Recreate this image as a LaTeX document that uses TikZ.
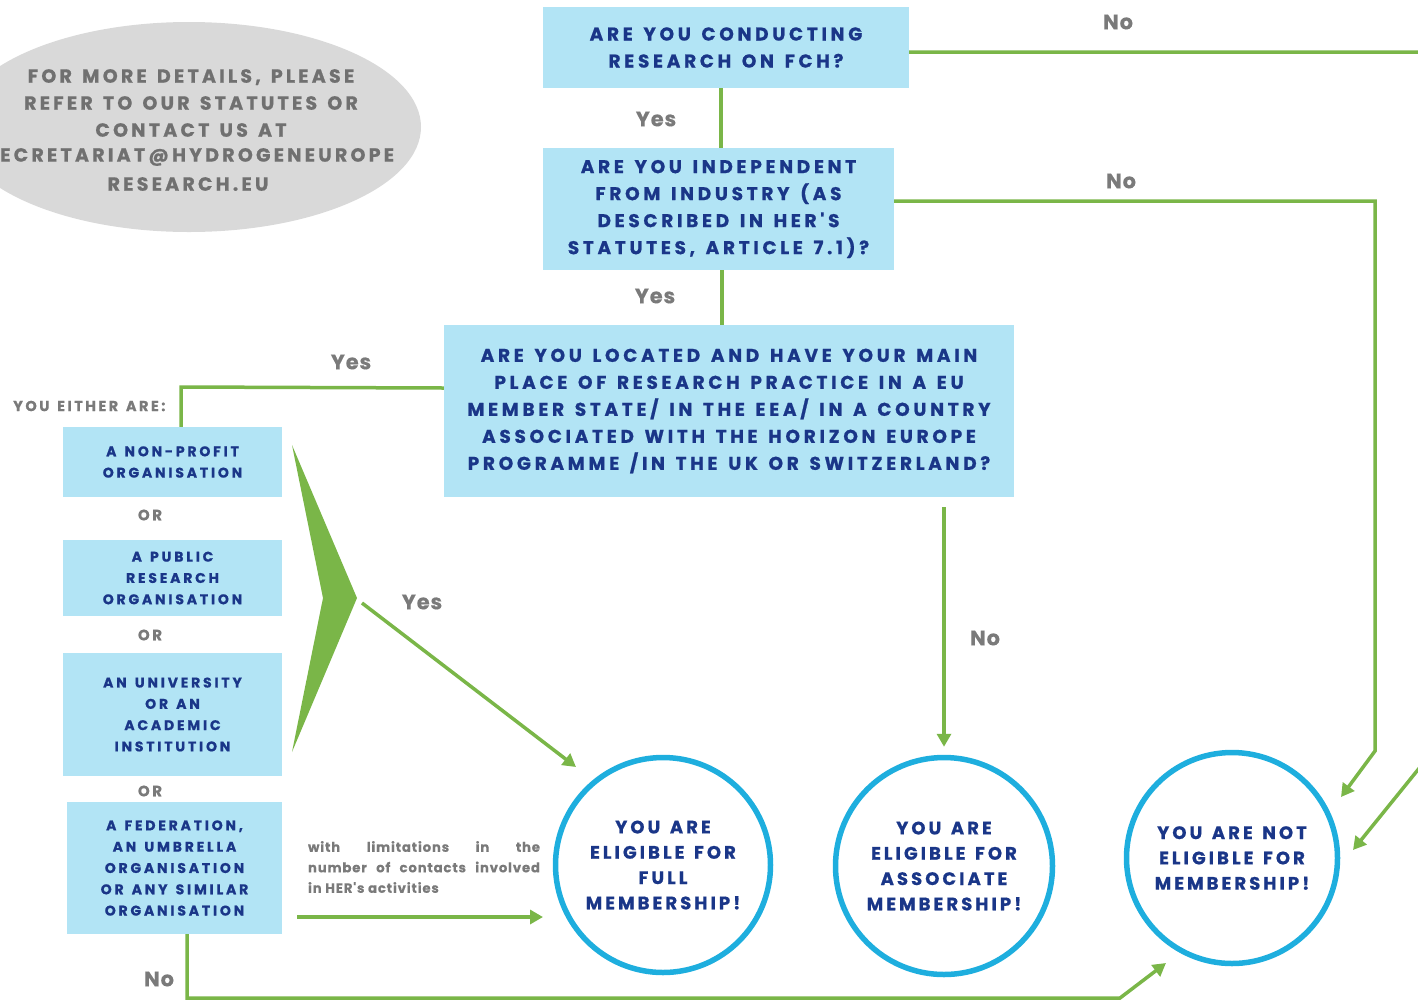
\documentclass[tikz,border=0pt]{standalone}
\usepackage{fontspec}
\setmainfont{Poppins}
\newfontfamily\hfont{Poppins}[LetterSpace=17, WordSpace=1.4, FakeBold=0.8]
\newfontfamily\qfont{Poppins}[LetterSpace=20, WordSpace=1.4, FakeBold=0.8]
\newfontfamily\lfont{Poppins}[LetterSpace=4, FakeBold=0.3]
\newfontfamily\tfont{Poppins}[LetterSpace=6, FakeBold=0.2]
\usetikzlibrary{arrows.meta,calc}
\definecolor{boxblue}{RGB}{178,228,245}
\definecolor{navy}{RGB}{26,54,136}
\definecolor{hgreen}{RGB}{122,182,72}
\definecolor{cblue}{RGB}{30,174,222}
\definecolor{lgray}{RGB}{122,122,122}
\definecolor{egray}{RGB}{217,217,217}
\definecolor{etext}{RGB}{112,112,112}
\tikzset{
  qbox/.style={fill=boxblue, inner sep=0pt, align=center, text=navy,
    font=\qfont\bfseries\fontsize{18.5}{27}\selectfont},
  obox/.style={fill=boxblue, inner sep=0pt, align=center, text=navy,
    font=\qfont\bfseries\fontsize{14}{21.3}\selectfont},
  res/.style={circle, draw=cblue, line width=5.5pt, inner sep=0pt, align=center, text=navy,
    font=\hfont\bfseries\fontsize{18}{25.3}\selectfont},
  lbl/.style={text=lgray, inner sep=0pt, font=\lfont\bfseries\fontsize{21}{22}\selectfont},
  orl/.style={text=lgray, inner sep=0pt, font=\hfont\bfseries\fontsize{15}{15}\selectfont},
  etxt/.style={text=etext, inner sep=0pt, align=center, font=\hfont\bfseries\fontsize{19}{27}\selectfont},
  conn/.style={draw=hgreen, line width=3.5pt},
  arr/.style={conn, -{Triangle[length=13pt,width=14pt]}},
}
\begin{document}
\begin{tikzpicture}[x=1pt,y=-1pt]
\useasboundingbox (0,0) rectangle (1418,1002);
% ellipse note
\fill[egray] (189,127) ellipse [x radius=232pt, y radius=105pt];
\node[etxt] (e1) at (191,103) {FOR MORE DETAILS, PLEASE\\REFER TO OUR STATUTES OR\\CONTACT US AT};
\node[etxt, anchor=west] (e2) at (0,157) {ECRETARIAT@HYDROGENEUROPE};
\node[etxt] (e3) at (188,184) {RESEARCH.EU};
% question boxes
\node[qbox, minimum width=366pt, minimum height=81pt] (q1) at (726,47.5)
  {ARE YOU CONDUCTING\\RESEARCH ON FCH?};
\node[qbox, minimum width=351pt, minimum height=122pt] (q2) at (718.5,209)
  {ARE YOU INDEPENDENT\\FROM INDUSTRY (AS\\DESCRIBED IN HER'S\\STATUTES, ARTICLE 7.1)?};
\node[qbox, minimum width=570pt, minimum height=172pt] (q3) at (729,411)
  {ARE YOU LOCATED AND HAVE YOUR MAIN\\PLACE OF RESEARCH PRACTICE IN A EU\\MEMBER STATE/ IN THE EEA/ IN A COUNTRY\\ASSOCIATED WITH THE HORIZON EUROPE\\PROGRAMME /IN THE UK OR SWITZERLAND?};
% organisation boxes
\node[text=lgray, inner sep=0pt, anchor=west, font=\hfont\bfseries\fontsize{14.5}{14}\selectfont] (either) at (13,406) {YOU EITHER ARE:};
\node[obox, minimum width=219pt, minimum height=70pt] (oA) at (172.5,462)
  {A NON-PROFIT\\ORGANISATION};
\node[orl] (or1) at (150,515) {OR};
\node[obox, minimum width=219pt, minimum height=76pt] (oB) at (172.5,578)
  {A PUBLIC\\RESEARCH\\ORGANISATION};
\node[orl] (or2) at (150,635) {OR};
\node[obox, minimum width=219pt, minimum height=123pt] (oC) at (172.5,714.5)
  {AN UNIVERSITY\\OR AN\\ACADEMIC\\INSTITUTION};
\node[orl] (or3) at (150,791) {OR};
\node[obox, minimum width=215pt, minimum height=132pt] (oD) at (174.5,868)
  {A FEDERATION,\\AN UMBRELLA\\ORGANISATION\\OR ANY SIMILAR\\ORGANISATION};
% chevron
\fill[hgreen] (292,445) -- (357,598) -- (292,752) -- (323,598) -- cycle;
\coordinate (chev) at (362,603);
% result circles
\node[res, minimum size=215pt] (c1) at (663,865) {YOU ARE\\ELIGIBLE FOR\\FULL\\MEMBERSHIP!};
\node[res, minimum size=217pt] (c2) at (944,866) {YOU ARE\\ELIGIBLE FOR\\ASSOCIATE\\MEMBERSHIP!};
\node[res, minimum size=211pt] (c3) at (1232,858) {YOU ARE NOT\\ELIGIBLE FOR\\MEMBERSHIP!};
% small note
\node[text=lgray, inner sep=0pt, text width=232pt, align=justify,
  font=\tfont\bfseries\fontsize{13.3}{20.5}\selectfont] (note) at (424,867)
  {with limitations in the\linebreak number of contacts involved\linebreak in HER's activities};
% coordinates for routes
\coordinate (r1a) at (1425,52);
\coordinate (r1b) at (1425,761);
\coordinate (r2a) at (1375,201);
\coordinate (r2b) at (1375,751);
\coordinate (r3a) at (181,387);
\coordinate (r4a) at (187,998);
\coordinate (r4b) at (1120,998);
\coordinate (v1) at (721,0);
\coordinate (v2) at (722,0);
% connectors
\draw[conn] (q1.south -| v1) -- (q2.north -| v1);
\draw[conn] (q2.south -| v2) -- (q3.north -| v2);
\draw[arr] ([yshift=-4.5pt]q1.east) -- (r1a) -- (r1b) -- (1353,850);
\draw[arr] ([yshift=8pt]q2.east) -- (r2a) -- (r2b) -- (1341,797);
\draw[conn] ([yshift=23pt]q3.west) -- (r3a) -- (oA.north -| r3a);
\draw[arr] ([yshift=-10pt]q3.south -| c2.north) -- ([yshift=8pt]c2.north);
\draw[arr] (chev) -- (576,767);
\draw[arr] ([xshift=15pt,yshift=-49pt]oD.east) -- (543,917);
\draw[arr] (oD.south -| r4a) -- (r4a) -- (r4b) -- (1166,963);
% labels
\node[lbl] (y1) at (656,119) {Yes};
\node[lbl] (n1) at (1118,22) {No};
\node[lbl] (n2) at (1121,181) {No};
\node[lbl] (y2) at (655,296) {Yes};
\node[lbl] (y3) at (351,362) {Yes};
\node[lbl] (y4) at (422,602) {Yes};
\node[lbl] (n3) at (985,638) {No};
\node[lbl] (n4) at (159,979) {No};
\end{tikzpicture}
\end{document}
